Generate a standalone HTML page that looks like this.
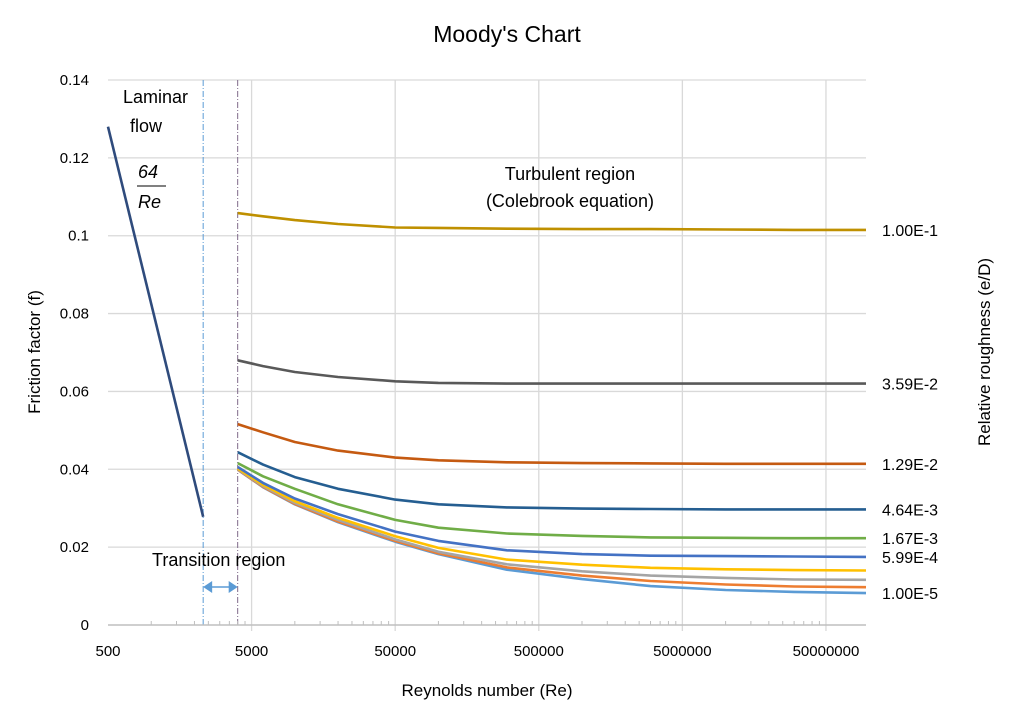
<!DOCTYPE html>
<html><head><meta charset="utf-8"><style>
body{margin:0;background:#fff;}
svg text{font-family:"Liberation Sans",sans-serif;fill:#000;}
</style></head><body>
<svg id="chart" width="1013" height="721" xmlns="http://www.w3.org/2000/svg">
<text x="507" y="42" font-size="23" text-anchor="middle">Moody's Chart</text>
<g id="grid"></g>
<g id="series"></g>
<g id="axes"></g>
<text x="487" y="696" font-size="17" text-anchor="middle">Reynolds number (Re)</text>
<text transform="translate(40,352) rotate(-90)" font-size="17" text-anchor="middle">Friction factor (f)</text>
<text transform="translate(990,352) rotate(-90)" font-size="17" text-anchor="middle">Relative roughness (e/D)</text>
<text x="123" y="103" font-size="18">Laminar</text>
<text x="130" y="132" font-size="18">flow</text>
<text x="138" y="178" font-size="18" font-style="italic" font-family="Liberation Serif">64</text>
<line x1="137" y1="186" x2="166" y2="186" stroke="#000" stroke-width="1"/>
<text x="138" y="208" font-size="18" font-style="italic" font-family="Liberation Serif">Re</text>
<text x="570" y="180" font-size="18" text-anchor="middle">Turbulent region</text>
<text x="570" y="207" font-size="18" text-anchor="middle">(Colebrook equation)</text>
<text x="152" y="566" font-size="18">Transition region</text>
</svg>
<script>
const xTicks=[500,5000,50000,500000,5000000,50000000];
const yTicks=[0,0.02,0.04,0.06,0.08,0.1,0.12,0.14];
const laminarRe=[500,2300];
const laminarF=[0.128,0.0278];
const turbRe=[4000,6000,10000,20000,50000,100000,300000,1000000,3000000,10000000,30000000,95000000];
const roughLabels=["1.00E-1","3.59E-2","1.29E-2","4.64E-3","1.67E-3","5.99E-4","","","","1.00E-5"];
const colors=["#bf9000","#595959","#c55a11","#255e91","#70ad47","#4472c4","#ffc000","#a5a5a5","#ed7d31","#5b9bd5"];
const f0=[.1058,.1050,.1040,.1030,.1021,.1020,.1018,.1017,.1017,.1016,.1015,.1015];
const f1=[.0680,.0665,.0650,.0637,.0626,.0622,.0620,.0620,.0620,.0620,.0620,.0620];
const f2=[.0516,.0495,.0470,.0448,.0430,.0423,.0418,.0416,.0415,.0414,.0414,.0414];
const f3=[.0444,.0412,.0380,.0350,.0322,.0310,.0302,.0299,.0298,.0297,.0297,.0297];
const f4=[.0416,.0382,.0350,.0310,.0270,.0250,.0235,.0229,.0225,.0224,.0223,.0223];
const f5=[.0406,.0365,.0325,.0285,.0240,.0216,.0192,.0182,.0178,.0177,.0176,.0175];
const f6=[.0402,.0360,.0318,.0275,.0228,.0198,.0168,.0155,.0147,.0143,.0141,.0140];
const f7=[.0400,.0357,.0314,.0270,.0220,.0188,.0156,.0138,.0127,.0121,.0117,.0116];
const f8=[.0399,.0355,.0311,.0266,.0216,.0184,.0148,.0127,.0113,.0104,.0099,.0097];
const f9=[.0399,.0354,.0310,.0264,.0214,.0182,.0142,.0118,.0100,.0090,.0085,.0082];
const turbF=[f0,f1,f2,f3,f4,f5,f6,f7,f8,f9];
const NS="http://www.w3.org/2000/svg";
const X0=108,X1=866,Y0=625,Y1=80,xmin=500,xmax=95000000;
function xs(v){return X0+(Math.log10(v)-Math.log10(xmin))/(Math.log10(xmax)-Math.log10(xmin))*(X1-X0);}
function ys(v){return Y0-(v/0.14)*(Y0-Y1);}
function mk(tag,attrs,parent){const e=document.createElementNS(NS,tag);for(const k in attrs)e.setAttribute(k,attrs[k]);parent.appendChild(e);return e;}
const grid=document.getElementById('grid'),axes=document.getElementById('axes'),ser=document.getElementById('series');
yTicks.forEach(t=>{
  if(t>0){const l=mk('line',{x1:X0,x2:X1,y1:ys(t),y2:ys(t),stroke:'#d9d9d9','stroke-width':1.3},grid);
  
  }
  const tx=mk('text',{x:89,y:ys(t)+5,'font-size':15,'text-anchor':'end'},axes);tx.textContent=String(t);
  
  
});
xTicks.forEach((t,i)=>{
  if(i>0){const l=mk('line',{x1:xs(t),x2:xs(t),y1:Y1,y2:Y0+6,stroke:'#d9d9d9','stroke-width':1.3},grid);
  
  }
  const tx=mk('text',{x:xs(t),y:656,'font-size':15,'text-anchor':'middle'},axes);tx.textContent=String(t);
  
  
});
for(let d=500;d<xmax;d*=10){for(let k=2;k<10;k++){const v=d*k;if(v>=xmax)break;const xx=xs(v);
  const l=mk('line',{x1:xx,x2:xx,y1:Y0-4,y2:Y0,stroke:'#bfbfbf','stroke-width':1},axes);
  
  }}
const ax=mk('line',{x1:X0,x2:X1,y1:Y0,y2:Y0,stroke:'#bfbfbf','stroke-width':1.5},axes);


[2300,4000].forEach(v=>{const l=mk('line',{x1:xs(v),x2:xs(v),y1:Y1,y2:Y0,stroke:v==2300?'#5b9bd5':'#7f6a8a','stroke-width':1,'stroke-dasharray':'6,2,1,2'},grid);
  
  });
const ar=mk('g',{},axes);


const ya=587,xa=xs(2300),xb=xs(4000);
mk('line',{x1:xa+6,x2:xb-6,y1:ya,y2:ya,stroke:'#5b9bd5','stroke-width':1.5},ar);
mk('polygon',{points:`${xa},${ya} ${xa+9},${ya-6} ${xa+9},${ya+6}`,fill:'#5b9bd5'},ar);
mk('polygon',{points:`${xb},${ya} ${xb-9},${ya-6} ${xb-9},${ya+6}`,fill:'#5b9bd5'},ar);
const lam=mk('polyline',{points:laminarRe.map((r,i)=>xs(r)+','+ys(laminarF[i])).join(' '),fill:'none',stroke:'#2f4b7c','stroke-width':2.6},ser);


for(let s=turbF.length-1;s>=0;s--){
  const p=mk('polyline',{points:turbRe.map((r,i)=>xs(r).toFixed(1)+','+ys(turbF[s][i]).toFixed(1)).join(' '),fill:'none',stroke:colors[s],'stroke-width':2.6,'stroke-linejoin':'round'},ser);
  
  
  if(roughLabels[s]){const t=mk('text',{x:882,y:ys(turbF[s][turbF[s].length-1])+6,'font-size':16},axes);t.textContent=roughLabels[s];
  
  }
}
</script>
</body></html>
